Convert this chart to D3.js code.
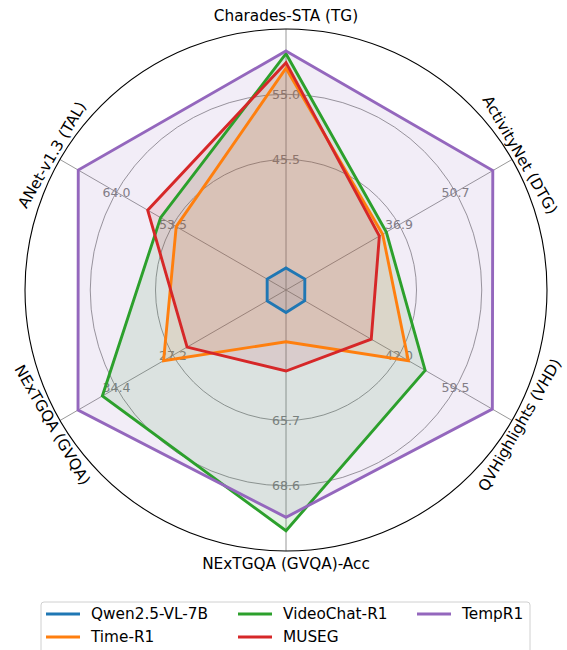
<!DOCTYPE html>
<html>
<head>
<meta charset="utf-8">
<script src="https://cdn.jsdelivr.net/npm/d3@7"></script>
<style>
  html, body { margin: 0; padding: 0; background: #fff; }
  svg { display: block; font-family: "DejaVu Sans", sans-serif; }
</style>
</head>
<body>
<svg id="chart" width="567" height="650"></svg>
<script>
// ---- data ----
const categories = ["Charades-STA (TG)", "ActivityNet (DTG)", "QVHighlights (VHD)",
                    "NExTGQA (GVQA)-Acc", "NExTGQA (GVQA)", "ANet-v1.3 (TAL)"];
const tickLow  = [45.5, 36.9, 42.0, 65.7, 27.2, 53.5];
const tickHigh = [55.0, 50.7, 59.5, 68.6, 34.4, 64.0];
const tickLowLabels  = ["45.5", "36.9", "42.0", "65.7", "27.2", "53.5"];
const tickHighLabels = ["55.0", "50.7", "59.5", "68.6", "34.4", "64.0"];

const seriesNames = ["Qwen2.5-VL-7B", "Time-R1", "VideoChat-R1", "MUSEG", "TempR1"];
const qwen      = [29.7, 13.9, 12.8, 60.9, 15.2, 36.0];
const timeR1    = [58.8, 32.9, 44.9, 62.2, 28.4, 52.9];
const videoChat = [60.9, 33.8, 50.1, 70.6, 36.2, 55.8];
const museg     = [59.6, 32.1, 33.4, 63.5, 25.4, 58.2];
const tempR1    = [61.3, 59.8, 70.9, 70.0, 39.3, 71.1];
const seriesValues = [qwen, timeR1, videoChat, museg, tempR1];
const colors = ["#1f77b4", "#ff7f0e", "#2ca02c", "#d62728", "#9467bd"];

// ---- layout ----
const svg = d3.select("#chart");
const cx = 286, cy = 290, R = 261;
const n = categories.length;
const angle = d3.scaleLinear().domain([0, n]).range([0, 2 * Math.PI]);
const rScales = categories.map((c, i) =>
  d3.scaleLinear().domain([tickLow[i], tickHigh[i]]).range([0.5 * R, 0.75 * R]));

function pt(i, r) {
  const a = angle(i);
  return [cx + r * Math.sin(a), cy - r * Math.cos(a)];
}

const g = svg.append("g");

// grid circles
[0.5, 0.75].forEach(f => {
  g.append("circle").attr("cx", cx).attr("cy", cy).attr("r", f * R)
    .attr("fill", "none").attr("stroke", "#8c8c8c").attr("stroke-width", 0.9);
});
// radial lines
d3.range(n).forEach(i => {
  const [x, y] = pt(i, R);
  g.append("line").attr("x1", cx).attr("y1", cy).attr("x2", x).attr("y2", y)
    .attr("stroke", "#8c8c8c").attr("stroke-width", 0.9);
});
// outer spine
g.append("circle").attr("cx", cx).attr("cy", cy).attr("r", R)
  .attr("fill", "none").attr("stroke", "#000").attr("stroke-width", 1.1);

// tick labels
d3.range(n).forEach(i => {
  [[tickLow[i], tickLowLabels[i]], [tickHigh[i], tickHighLabels[i]]].forEach(([v, lab]) => {
    const [x, y] = pt(i, rScales[i](v));
    g.append("text").attr("x", x).attr("y", y)
      .attr("text-anchor", "middle").attr("dominant-baseline", "central")
      .attr("font-size", 12.5).attr("fill", "#808080").text(lab);
  });
});

// polygons: fills first, then outlines on top
const line = d3.line().curve(d3.curveLinearClosed);
const polys = seriesValues.map(vals => vals.map((v, i) => pt(i, rScales[i](v))));
polys.forEach((pts, s) => {
  g.append("path").attr("d", line(pts))
    .attr("fill", colors[s]).attr("fill-opacity", 0.12).attr("stroke", "none");
});
polys.forEach((pts, s) => {
  g.append("path").attr("d", line(pts))
    .attr("fill", "none").attr("stroke", colors[s]).attr("stroke-width", 2.9)
    .attr("stroke-linejoin", "miter");
});

// axis labels
d3.range(n).forEach(i => {
  const deg = angle(i) * 180 / Math.PI;
  const [x, y] = pt(i, (i % 3 === 0) ? 274 : 270);
  let rot = deg;
  if (rot > 90 && rot <= 270) rot -= 180;
  if (rot > 270) rot -= 360;
  g.append("text").attr("transform", `translate(${x},${y}) rotate(${rot})`)
    .attr("text-anchor", "middle").attr("dominant-baseline", "central")
    .attr("font-size", 15.3).attr("fill", "#000").text(categories[i]);
});

// legend
const lg = svg.append("g");
lg.append("rect").attr("x", 41).attr("y", 602).attr("width", 489).attr("height", 62)
  .attr("rx", 3).attr("fill", "#fff").attr("fill-opacity", 0.8)
  .attr("stroke", "#d0d0d0").attr("stroke-width", 1);
const colX = [46, 238, 417];
const rowY = [614, 637];
seriesNames.forEach((name, s) => {
  const col = Math.floor(s / 2), row = s % 2;
  const x = colX[col], y = rowY[row];
  lg.append("line").attr("x1", x).attr("x2", x + 34).attr("y1", y).attr("y2", y)
    .attr("stroke", colors[s]).attr("stroke-width", 2.9);
  lg.append("text").attr("x", x + 45).attr("y", y)
    .attr("dominant-baseline", "central").attr("font-size", 15.3).attr("fill", "#000")
    .text(name);
});
</script>
</body>
</html>
